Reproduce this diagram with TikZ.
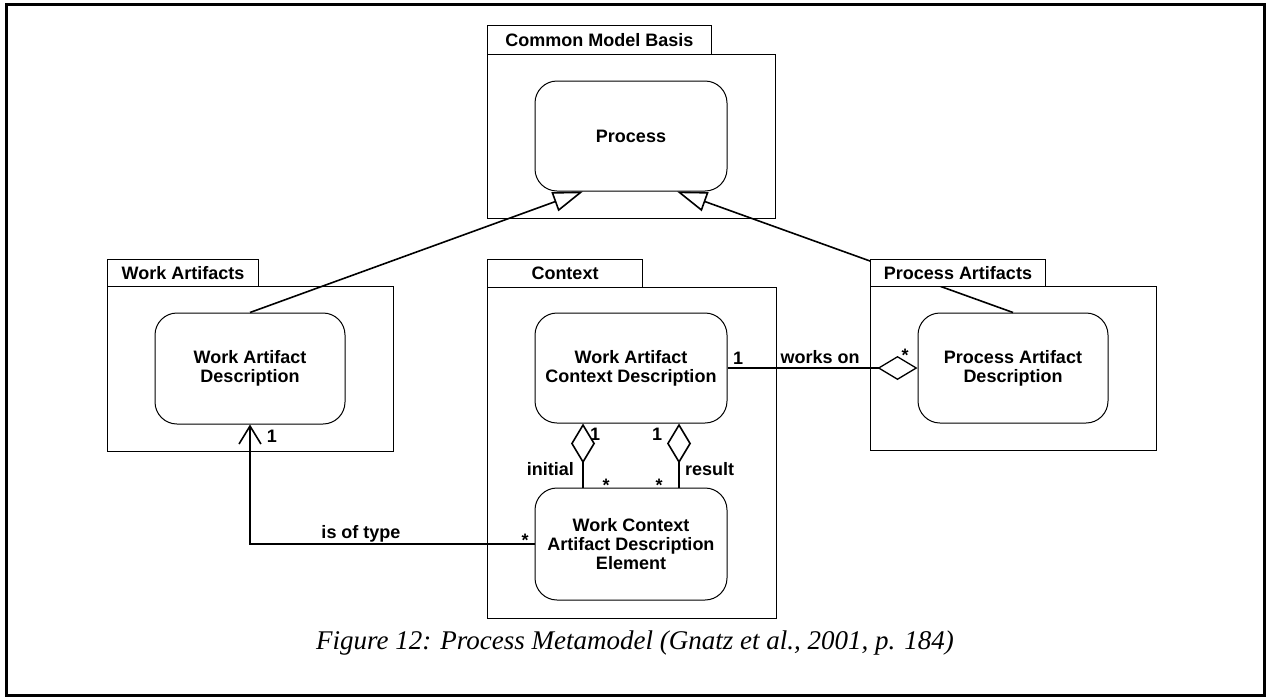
\documentclass[tikz,border=0pt]{standalone}
\usepackage{fontspec}
\setmainfont{Liberation Sans}
\newfontfamily\capserif{Liberation Serif}
\usetikzlibrary{arrows.meta,calc}

\begin{document}
\begin{tikzpicture}[x=1pt,y=-1pt,
  umlfont/.style={font=\fontsize{18}{19}\selectfont\bfseries},
  classbox/.style={draw, line width=1pt, rounded corners=22pt, align=center,
    umlfont, fill=white, inner sep=0pt},
  pkgbody/.style={draw, line width=1pt, inner sep=0pt, anchor=north west},
  pkgtab/.style={draw, line width=1pt, fill=white, umlfont, inner sep=0pt,
    anchor=north west},
  conn/.style={line width=1.6pt},
  generalize/.style={conn, -{Triangle[open, length=30pt, width=20pt]}},
  aggregate/.style={conn, -{Diamond[open, length=40pt, width=24pt]}},
  navigate/.style={conn, -{Straight Barb[length=18pt, width=22pt]}},
  lbl/.style={umlfont, inner sep=0pt, anchor=base},
]
\useasboundingbox (0,0) rectangle (1266,697);

% outer frame
\draw[line width=3pt] (6,4.5) rectangle (1264.5,695.5);

% package bodies
\node[pkgbody, minimum width=288pt, minimum height=164pt] (cmb) at (487,54) {};
\node[pkgbody, minimum width=286pt, minimum height=165pt] (wa)  at (107,286) {};
\node[pkgbody, minimum width=289pt, minimum height=331pt] (ctx) at (487,287) {};
\node[pkgbody, minimum width=286pt, minimum height=164pt] (pa)  at (870,286) {};

% classes
\node[classbox, minimum width=192pt, minimum height=110pt] (proc)  at (631,136) {Process};
\node[classbox, minimum width=190pt, minimum height=111pt] (wad)   at (250,368.5) {Work Artifact\\Description};
\node[classbox, minimum width=192pt, minimum height=110pt] (wacd)  at (631,368) {Work Artifact\\Context Description};
\node[classbox, minimum width=190pt, minimum height=110pt] (pad)   at (1013,368) {Process Artifact\\Description};
\node[classbox, minimum width=192pt, minimum height=112pt] (wcade) at (631,544) {Work Context\\Artifact Description\\Element};

% generalizations
\draw[generalize] (wad.north) -- ($(proc.south)+(-48,0)$);
\draw[generalize] (pad.north) -- ($(proc.south)+(46,0)$);

% associations
\draw[aggregate, line width=1.3pt] (wacd.east) -- (pad.west);
\draw[aggregate] ($(wcade.north)+(-48,0)$) -- ($(wacd.south)+(-48,0)$);
\draw[aggregate] ($(wcade.north)+(48,0)$) -- ($(wacd.south)+(48,0)$);
\draw[navigate] (wcade.west) -| (wad.south);

% package tabs
\node[pkgtab, minimum width=224pt, minimum height=29pt] (cmbtab) at (487,25)  {Common Model Basis};
\node[pkgtab, minimum width=151pt, minimum height=27pt] (watab)  at (107,259) {Work Artifacts};
\node[pkgtab, minimum width=155pt, minimum height=28pt] (ctxtab) at (487,259) {Context};
\node[pkgtab, minimum width=175pt, minimum height=27pt] (patab)  at (870,259) {Process Artifacts};

% association labels
\node[lbl] (m1)   at (272,442) {1};
\node[lbl] (type) at (361,538) {is of type};
\node[lbl] (m2)   at (525,546) {*};
\node[lbl] (m3)   at (738,364) {1};
\node[lbl] (works) at (820,363) {works on};
\node[lbl] (m4)   at (905,361) {*};
\node[lbl] (m5)   at (595,440) {1};
\node[lbl] (m6)   at (657,440) {1};
\node[lbl, anchor=base east] (init) at (574,475) {initial};
\node[lbl, anchor=base west] (res)  at (685,475) {result};
\node[lbl] (m7)   at (606,491) {*};
\node[lbl] (m8)   at (659,491) {*};

% caption
\node[font=\fontsize{27}{30}\selectfont\capserif\itshape, inner sep=0pt, anchor=base]
  (caption) at (635,649) {Figure 12: Process Metamodel (Gnatz et al., 2001, p. 184)};
\end{tikzpicture}
\end{document}
